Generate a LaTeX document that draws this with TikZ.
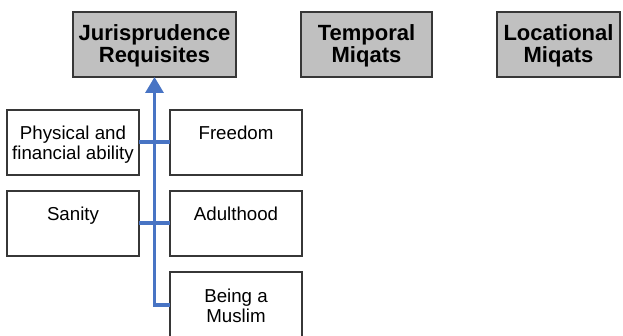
\documentclass[tikz,border=0pt]{standalone}
\usepackage{fontspec}
\setmainfont{Liberation Sans}
\usetikzlibrary{arrows.meta}
\definecolor{headfill}{RGB}{192,192,192}
\definecolor{edge}{RGB}{55,55,55}
\definecolor{flow}{RGB}{72,116,196}
\begin{document}
\begin{tikzpicture}[x=1pt,y=-1pt,
  headbox/.style={draw=edge,line width=1.2pt,fill=headfill},
  itembox/.style={draw=edge,line width=1.1pt,fill=white},
  headtext/.style={font=\fontsize{22}{21.5}\bfseries\selectfont,align=center,inner sep=0pt},
  itemtext/.style={font=\fontsize{18.7}{20}\selectfont,align=center,inner sep=0pt,anchor=north},
  link/.style={draw=flow,line width=3.4pt}]
\useasboundingbox (0,0) rectangle (623,336);
% header boxes
\draw[headbox] (73,12) rectangle (236,77);
\draw[headbox] (301,12) rectangle (432,77);
\draw[headbox] (497,12) rectangle (620,77);
\node[headtext] (jur) at (154.5,46) {Jurisprudence\\Requisites};
\node[headtext] (tmp) at (366.5,46) {Temporal\\Miqats};
\node[headtext] (loc) at (558.5,46) {Locational\\Miqats};
\coordinate (jurbot) at (154.5,77);
% requisite boxes
\draw[itembox] (7,110) rectangle (139,175);
\draw[itembox] (170,110) rectangle (302,175);
\draw[itembox] (7,191) rectangle (139,256);
\draw[itembox] (170,191) rectangle (302,256);
\draw[itembox] (170,272) rectangle (302,345);
\node[itemtext] (phys) at (73,126) {Physical and\\financial ability};
\node[itemtext] (free) at (236,126) {Freedom};
\node[itemtext] (sane) at (73,207) {Sanity};
\node[itemtext] (adult) at (236,207) {Adulthood};
\node[itemtext] (musl) at (236,289) {Being a\\Muslim};
% connector coordinates
\coordinate (spine) at (154.5,305);
\coordinate (muslin) at (170,305);
\coordinate (r1l) at (139,142);
\coordinate (r1r) at (170,142);
\coordinate (r2l) at (139,223);
\coordinate (r2r) at (170,223);
% connectors
\draw[link] (r1l) -- (r1r);
\draw[link] (r2l) -- (r2r);
\draw[link,line join=miter,-{Triangle[length=16pt,width=18pt]}] (muslin) -- (spine) -- (jurbot);
\end{tikzpicture}
\end{document}
